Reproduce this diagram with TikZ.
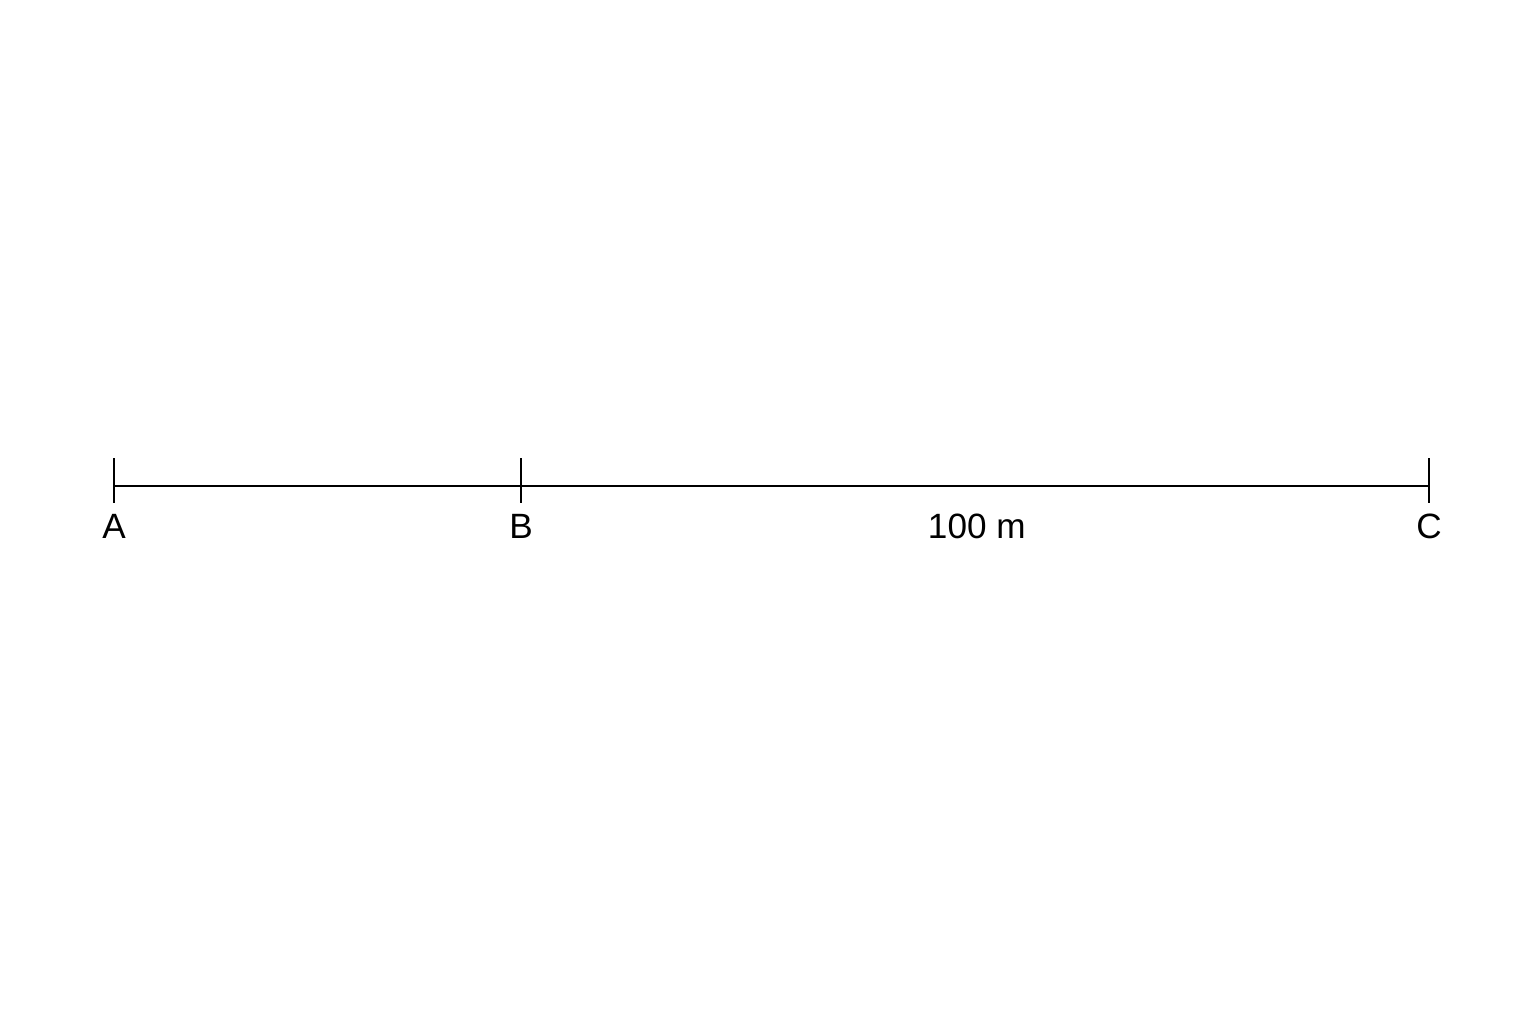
\documentclass[tikz,border=0pt]{standalone}
\usepackage{fontspec}
\setmainfont{Liberation Sans}
\usetikzlibrary{positioning, calc}

\begin{document}
\begin{tikzpicture}[
    seg/.style={line width=0.8pt},
    tick/.style={line width=0.8pt},
    lbl/.style={font=\fontsize{10}{12}\selectfont, inner sep=0pt, anchor=center}
]
    \useasboundingbox (0,0) rectangle (15.36,10.24);
    \coordinate (A) at (1.14,5.38);
    \coordinate (B) at (5.21,5.38);
    \coordinate (C) at (14.29,5.38);

    \draw[seg] (A) -- (B) -- (C);
    \foreach \p in {A,B,C}
        \draw[tick] ($(\p)+(0,0.28)$) -- ($(\p)+(0,-0.17)$);

    \node[lbl] (labA) at ($(A)+(0,-0.40)$) {A};
    \node[lbl] (labB) at ($(B)+(0,-0.40)$) {B};
    \node[lbl] (labC) at ($(C)+(0,-0.40)$) {C};
    \node[lbl] (dist) at ($(B)!0.502!(C)+(0,-0.40)$) {100 m};
\end{tikzpicture}
\end{document}
